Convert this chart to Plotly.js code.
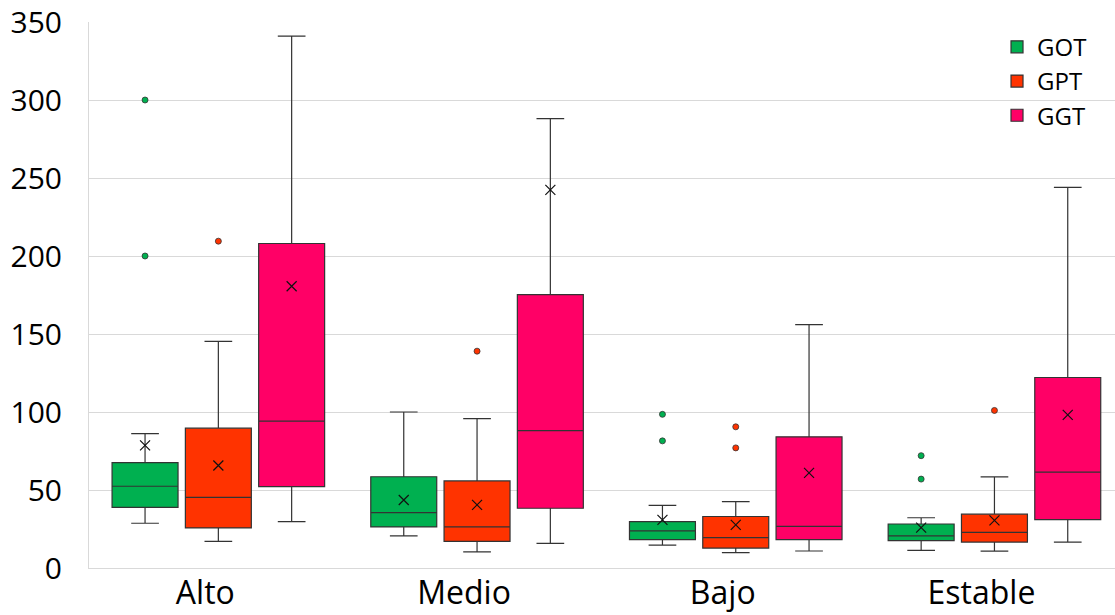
<!DOCTYPE html>
<html>
<head>
<meta charset="utf-8">
<script src="https://cdn.plot.ly/plotly-3.0.1.min.js"></script>
<style>html,body{margin:0;padding:0;background:#fff;}#chart{width:1115px;height:615px;}</style>
</head>
<body>
<div id="chart"></div>
<script>
const categories = ['Alto', 'Medio', 'Bajo', 'Estable'];
const seriesNames = ['GOT', 'GPT', 'GGT'];
const colors = ['#00B050', '#FF3300', '#FF0066'];

const gotQ1 = [38.8, 26.3, 18.2, 17.6];
const gotMedian = [52.4, 35.5, 23.8, 20.6];
const gotQ3 = [67.5, 58.5, 29.7, 28.2];
const gotLower = [28.7, 20.6, 14.6, 11.3];
const gotUpper = [86.1, 100, 40.2, 32.2];
const gotMean = [78.6, 43.6, 30.8, 25.9];
const gotOutX = ['Alto', 'Alto', 'Bajo', 'Bajo', 'Estable', 'Estable'];
const gotOutY = [300, 200, 98.5, 81.5, 72, 57];

const gptQ1 = [25.7, 17.1, 12.8, 16.6];
const gptMedian = [45.3, 26.3, 19.5, 22.9];
const gptQ3 = [89.6, 55.8, 33, 34.5];
const gptLower = [17.1, 10.3, 9.8, 10.8];
const gptUpper = [145.3, 95.7, 42.6, 58.4];
const gptMean = [65.7, 40.5, 27.6, 30.5];
const gptOutX = ['Alto', 'Medio', 'Bajo', 'Bajo', 'Estable'];
const gptOutY = [209.5, 139, 90.5, 77, 101];

const ggtQ1 = [52.1, 38.3, 18.2, 31];
const ggtMedian = [94.2, 88, 26.7, 61.4];
const ggtQ3 = [208, 175.2, 84.1, 122.1];
const ggtLower = [29.7, 15.8, 10.9, 16.6];
const ggtUpper = [341, 288, 156, 244];
const ggtMean = [180.6, 242.4, 61, 98.2];
const ggtOutX = [];
const ggtOutY = [];

const yTicks = [0, 50, 100, 150, 200, 250, 300, 350];

const stats = [
  {q1: gotQ1, median: gotMedian, q3: gotQ3, lower: gotLower, upper: gotUpper, mean: gotMean, ox: gotOutX, oy: gotOutY},
  {q1: gptQ1, median: gptMedian, q3: gptQ3, lower: gptLower, upper: gptUpper, mean: gptMean, ox: gptOutX, oy: gptOutY},
  {q1: ggtQ1, median: ggtMedian, q3: ggtQ3, lower: ggtLower, upper: ggtUpper, mean: ggtMean, ox: ggtOutX, oy: ggtOutY}
];

const traces = [];
stats.forEach((s, i) => {
  traces.push({
    type: 'box', name: seriesNames[i], x: categories,
    q1: s.q1, median: s.median, q3: s.q3, lowerfence: s.lower, upperfence: s.upper,
    boxpoints: false, offsetgroup: seriesNames[i],
    fillcolor: colors[i], line: {color: '#333333', width: 1.2},
    whiskerwidth: 0.42, hoverinfo: 'skip'
  });
});
stats.forEach((s, i) => {
  traces.push({
    type: 'scatter', mode: 'markers', x: categories, y: s.mean, offsetgroup: seriesNames[i],
    showlegend: false, hoverinfo: 'skip',
    marker: {symbol: 'x-thin', size: 10, color: '#000', line: {color: '#111', width: 1.2}}
  });
  traces.push({
    type: 'scatter', mode: 'markers', x: s.ox, y: s.oy, offsetgroup: seriesNames[i],
    showlegend: false, hoverinfo: 'skip',
    marker: {symbol: 'circle', size: 6, color: colors[i], line: {color: '#333', width: 0.8}}
  });
});

const layout = {
  width: 1115, height: 615,
  margin: {l: 89, r: 0, t: 22, b: 47},
  paper_bgcolor: '#fff', plot_bgcolor: '#fff',
  font: {family: 'Open Sans, sans-serif', color: '#000'},
  boxmode: 'group', boxgap: 0.15, boxgroupgap: 0.1,
  scattermode: 'group', scattergap: 0.15,
  showlegend: true,
  legend: {x: 0.885, y: 0.995, xanchor: 'left', yanchor: 'top', font: {size: 24, color: '#000'},
           bgcolor: 'rgba(0,0,0,0)', traceorder: 'normal'},
  xaxis: {type: 'category', categoryorder: 'array', categoryarray: categories,
          range: [-0.5, 3.466], showgrid: false, zeroline: false,
          showline: true, linecolor: '#d9d9d9', linewidth: 1,
          tickfont: {size: 32, color: '#000'}, ticks: '', ticklabelshift: -13, ticklabelstandoff: -3},
  yaxis: {range: [0, 350], tickvals: yTicks, ticktext: yTicks.map(String),
          showgrid: true, gridcolor: '#d9d9d9', gridwidth: 1, zeroline: false,
          showline: true, linecolor: '#d9d9d9', linewidth: 1, mirror: false,
          tickfont: {size: 30, color: '#000'}, ticks: '', ticklabelstandoff: 20}
};

Plotly.newPlot('chart', traces, layout, {displayModeBar: false, staticPlot: true});
</script>
</body>
</html>
